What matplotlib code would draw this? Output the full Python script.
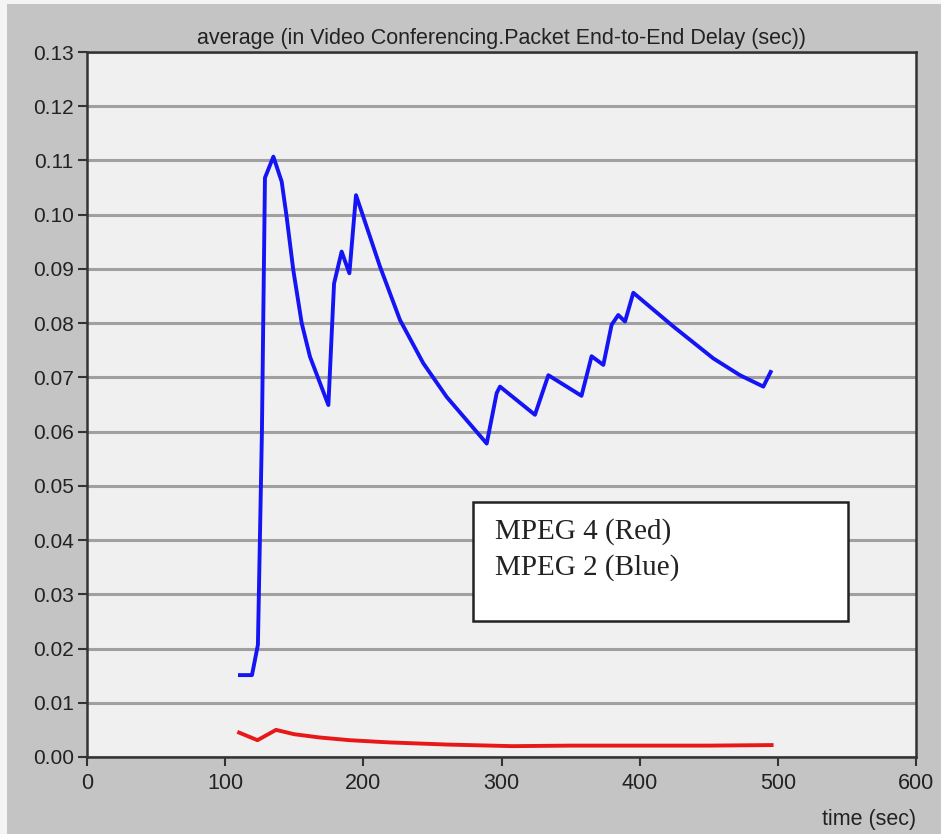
import matplotlib
matplotlib.use("Agg")
import matplotlib.pyplot as plt
from matplotlib.patches import Rectangle

# MPEG 2 (blue) average packet end-to-end delay
mpeg2_t = [110.7, 119.4, 123.7, 126.6, 128.8, 134.9, 140.9, 144.5, 149.3, 155.4,
           161.4, 174.7, 178.8, 184.3, 189.9, 194.7, 200.0, 212.1, 226.5, 243.4,
           260.3, 274.8, 289.3, 296.5, 298.9, 324.2, 333.9, 357.9, 365.2, 373.7,
           379.7, 384.5, 389.4, 395.4, 424.3, 453.3, 472.6, 489.5, 494.8]
mpeg2_d = [0.0151, 0.0151, 0.0207, 0.0600, 0.1068, 0.1107, 0.1061, 0.0996, 0.0898, 0.0800,
           0.0738, 0.0649, 0.0873, 0.0932, 0.0892, 0.1036, 0.0996, 0.0904, 0.0806, 0.0726,
           0.0664, 0.0621, 0.0578, 0.0671, 0.0683, 0.0631, 0.0704, 0.0666, 0.0739, 0.0723,
           0.0797, 0.0815, 0.0803, 0.0856, 0.0794, 0.0735, 0.0704, 0.0683, 0.0710]

# MPEG 4 (red)
mpeg4_t = [110.1, 123.4, 136.8, 150.0, 168.3, 190.0, 218.0, 260.0, 307.8, 350.0, 400.9, 450.0, 495.5]
mpeg4_d = [0.0045, 0.0031, 0.0050, 0.0042, 0.0036, 0.0031, 0.0027, 0.0023, 0.0020, 0.0021, 0.0021, 0.0021, 0.0022]

xticks = [0, 100, 200, 300, 400, 500, 600]
yticks = [0.00, 0.01, 0.02, 0.03, 0.04, 0.05, 0.06, 0.07, 0.08, 0.09, 0.10, 0.11, 0.12, 0.13]

title = "average (in Video Conferencing.Packet End-to-End Delay (sec))"
xlabel = "time (sec)"
legend_lines = ["MPEG 4 (Red)", "MPEG 2 (Blue)"]

plt.rcParams['font.family'] = ['Liberation Sans', 'DejaVu Sans']

fig = plt.figure(figsize=(9.41, 8.34), dpi=100, facecolor="#c4c4c4")
# light edge strips of the screenshot
fig.patches.append(Rectangle((0, 0), 7 / 941, 1, transform=fig.transFigure,
                             facecolor="#f4f4f4", edgecolor="none", zorder=0))
fig.patches.append(Rectangle((0, 1 - 4 / 834), 1, 4 / 834, transform=fig.transFigure,
                             facecolor="#f4f4f4", edgecolor="none", zorder=0))

ax = fig.add_axes([87 / 941, 1 - 757 / 834, (916 - 87) / 941, (757 - 52) / 834])
ax.set_facecolor("#f0f0f0")

ax.plot(mpeg2_t, mpeg2_d, color="#1414f5", lw=2.8, solid_joinstyle="round", zorder=3)
ax.plot(mpeg4_t, mpeg4_d, color="#e81818", lw=2.8, solid_joinstyle="round", zorder=3)

ax.set_xlim(0, 600)
ax.set_ylim(0, 0.13)
ax.set_xticks(xticks)
ax.set_xticklabels([str(v) for v in xticks], fontsize=15.5, color="#222222")
ax.set_yticks(yticks)
ax.set_yticklabels([f"{v:.2f}" for v in yticks], fontsize=15, color="#222222")
ax.tick_params(axis="both", direction="out", length=6.5, width=1.5, color="#333333")
ax.tick_params(axis="x", pad=5)
ax.tick_params(axis="y", pad=3)

ax.yaxis.grid(True, color="#a0a0a0", lw=2.2)
ax.xaxis.grid(False)
ax.set_axisbelow(True)
for s in ax.spines.values():
    s.set_color("#333333")
    s.set_linewidth(1.8)

ax.set_title(title, fontsize=15.5, color="#222222", pad=6)
ax.set_xlabel(xlabel, fontsize=15.5, color="#222222", loc="right", labelpad=11)

# legend text box
box = Rectangle(((473 - 87) / 829, (757 - 621) / 705), (848 - 473) / 829, (621 - 502) / 705,
                transform=ax.transAxes, facecolor="white", edgecolor="#222222", lw=1.8, zorder=4)
ax.add_patch(box)
ax.text((495 - 87) / 829, (757 - 532) / 705, legend_lines[0], transform=ax.transAxes,
        family=["Liberation Serif", "DejaVu Serif"], fontsize=21, va="center", ha="left",
        color="#222222", zorder=5)
ax.text((495 - 87) / 829, (757 - 568) / 705, legend_lines[1], transform=ax.transAxes,
        family=["Liberation Serif", "DejaVu Serif"], fontsize=21, va="center", ha="left",
        color="#222222", zorder=5)

fig.savefig("out.png", dpi=100, facecolor=fig.get_facecolor())
